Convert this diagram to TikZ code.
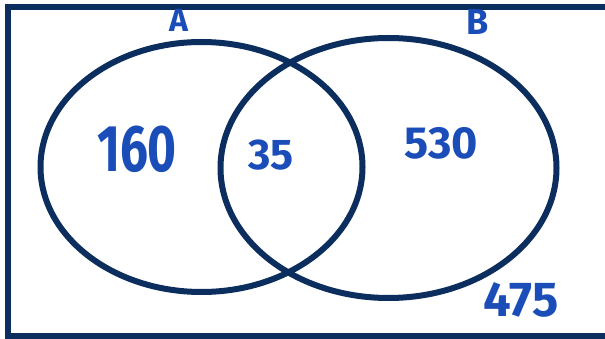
\documentclass[tikz,border=0pt]{standalone}
\usepackage{fontspec}
\setmainfont{Fira Sans}
\definecolor{navy}{HTML}{0B2E5E}
\definecolor{ink}{HTML}{1A4DB8}
\begin{document}
\begin{tikzpicture}[x=1pt,y=-1pt,
  frame/.style={draw=navy,line width=6pt},
  setline/.style={draw=navy,line width=6pt},
  lab/.style={text=ink,font=\bfseries\fontsize{#1}{#1}\selectfont,inner sep=0pt,anchor=center},
  lab/.default=45]
\useasboundingbox (0,0) rectangle (605,339);
\begin{scope}
\clip (0,0) rectangle (605,339);
\draw[frame] (8,7) rectangle (615,336);
\end{scope}
\draw[setline] (201.5,167) ellipse [x radius=161,y radius=125];
\draw[setline] (388.5,168) ellipse [x radius=168,y radius=130];
\node[lab=32] (A) at (179,20) {A};
\node[lab=36] (B) at (478,22) {B};
\node[lab=66,xscale=0.75] (n160) at (137,149) {160};
\node[lab=43] (n35) at (271,155) {35};
\node[lab=45] (n530) at (441,143) {530};
\node[lab=49] (n475) at (521,300) {475};
\end{tikzpicture}
\end{document}
